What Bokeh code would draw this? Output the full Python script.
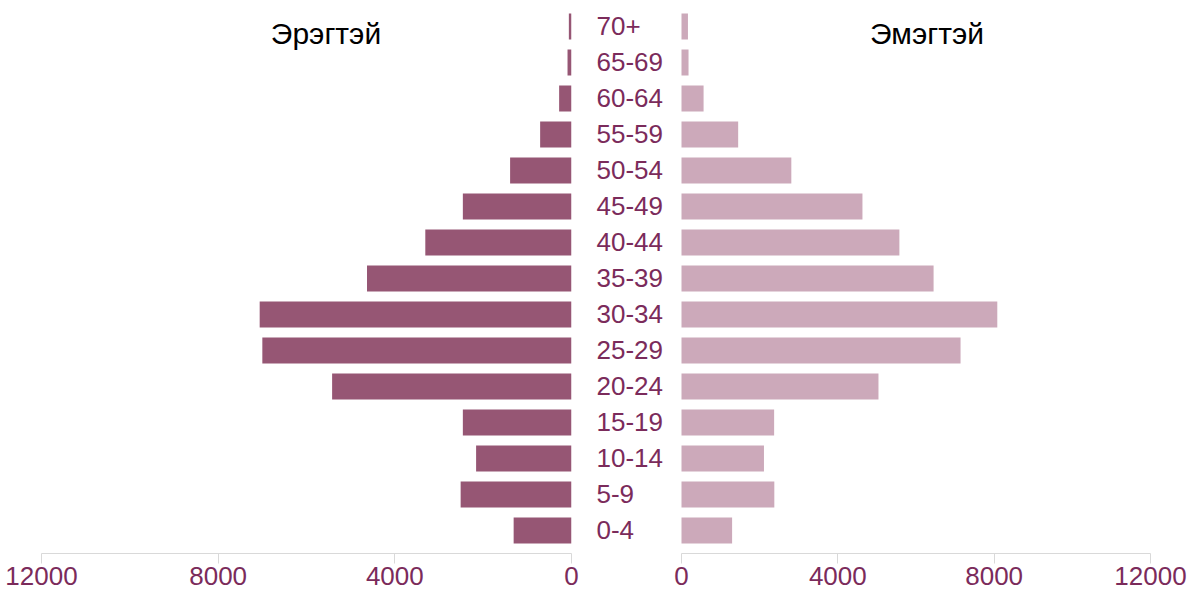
from bokeh.plotting import figure
from bokeh.models import Range1d, FixedTicker, Label
from bokeh.layouts import row
from bokeh.embed import file_html
from bokeh.resources import INLINE
from bokeh.core.properties import value

# ---- data ----
ages = ["0-4", "5-9", "10-14", "15-19", "20-24", "25-29", "30-34", "35-39",
        "40-44", "45-49", "50-54", "55-59", "60-64", "65-69", "70+"]
male = [1310, 2510, 2160, 2460, 5420, 7000, 7060, 4630, 3310, 2460, 1390, 710, 280, 90, 60]
female = [1295, 2375, 2110, 2370, 5040, 7140, 8080, 6450, 5575, 4630, 2810, 1450, 565, 180, 165]
ticks = [0, 4000, 8000, 12000]
male_title = "Эрэгтэй"
female_title = "Эмэгтэй"

# ---- style ----
MALE_C = "#965674"
FEMALE_C = "#CCA9BA"
TXT_C = "#7B2B5B"
AX_C = "#D9D9D9"
FONT = "Liberation Sans"
FS = "26px"
H = 595
BOTTOM = 42
XMAX = 12000

idx = list(range(len(ages)))
yr = Range1d(-0.64, 14.72)


def style_axis(p):
    ax = p.xaxis[0]
    ax.ticker = FixedTicker(ticks=ticks)
    ax.bounds = (0, XMAX)
    ax.axis_line_color = AX_C
    ax.major_tick_line_color = AX_C
    ax.major_tick_out = 10
    ax.major_tick_in = 0
    ax.minor_tick_line_color = None
    ax.major_label_text_font = FONT
    ax.major_label_text_font_size = FS
    ax.major_label_text_color = TXT_C
    ax.major_label_standoff = 3
    p.grid.visible = False
    p.outline_line_color = None
    p.background_fill_color = "white"
    p.border_fill_color = "white"


# left (male)
LB_L, L_FRAME, LB_R = 41, 530, 10
LW = LB_L + L_FRAME + LB_R
left = figure(width=LW, height=H, x_range=Range1d(XMAX, 0), y_range=yr,
              y_axis_location=None, output_backend="svg", toolbar_location=None,
              min_border_left=LB_L, min_border_right=LB_R, min_border_top=0,
              min_border_bottom=BOTTOM)
left.hbar(y=idx, left=0, right=male, height=0.72, fill_color=MALE_C, line_color=None)
style_axis(left)

# right (female)
ZERO_OFF, R_SPAN, RB_R = 100, 469, 40
r_frame = ZERO_OFF + R_SPAN
RW = r_frame + RB_R
ppu = R_SPAN / XMAX
right = figure(width=RW, height=H, x_range=Range1d(-ZERO_OFF / ppu, XMAX), y_range=yr,
               y_axis_location=None, output_backend="svg", toolbar_location=None,
               min_border_left=0, min_border_right=RB_R, min_border_top=0,
               min_border_bottom=BOTTOM)
right.hbar(y=idx, left=0, right=female, height=0.72, fill_color=FEMALE_C, line_color=None)
style_axis(right)

# age labels in the gap
label_x = -(ZERO_OFF - 15) / ppu
right.text(x=[label_x] * len(ages), y=idx, text=ages, text_align="left",
           text_baseline="middle", text_font=value(FONT), text_font_size=FS,
           text_color=TXT_C)

# titles
left.add_layout(Label(x=XMAX * (1 - 284.5 / L_FRAME), y=13.8, text=male_title,
                      text_align="center", text_baseline="middle",
                      text_font=FONT, text_font_size="30px", text_color="black"))
right.add_layout(Label(x=(345.5 - ZERO_OFF) / ppu, y=13.8, text=female_title,
                       text_align="center", text_baseline="middle",
                       text_font=FONT, text_font_size="30px", text_color="black"))

p = row(left, right, spacing=0)
open("out.html", "w").write(file_html(p, INLINE))
